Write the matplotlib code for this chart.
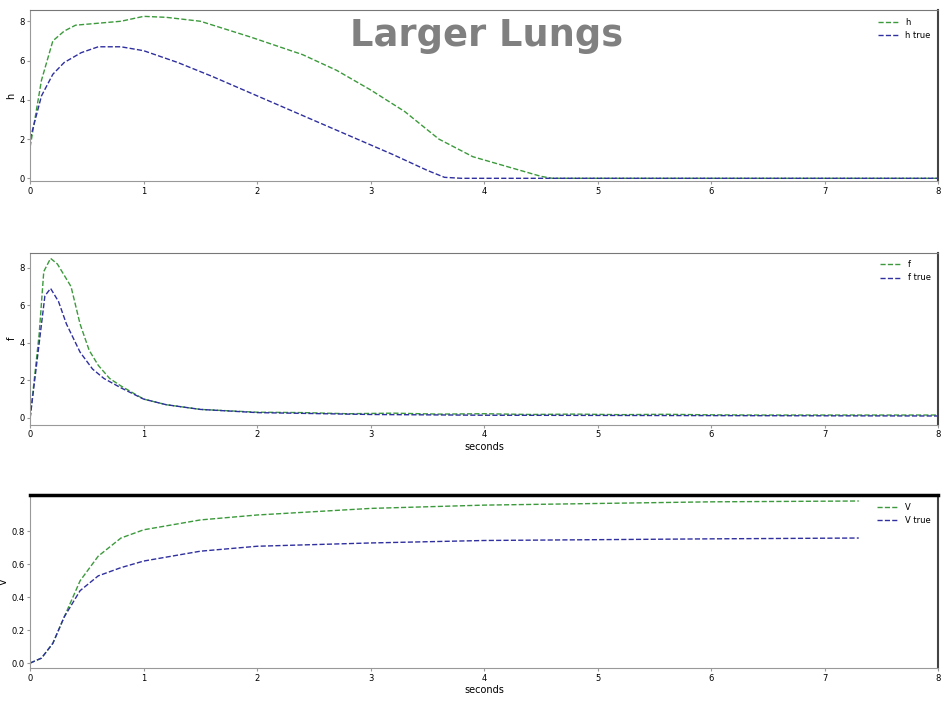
import matplotlib
matplotlib.use("Agg")
import matplotlib.pyplot as plt

# top panel: h
t_h = [0, 0.1, 0.2, 0.3, 0.4, 0.6, 0.8, 1.0, 1.2, 1.5, 1.94, 2.4, 2.7, 3.0, 3.3, 3.6, 3.9, 4.2, 4.5, 4.6, 8.0]
h = [1.6, 5.0, 7.0, 7.5, 7.8, 7.9, 8.0, 8.25, 8.2, 8.0, 7.2, 6.3, 5.5, 4.5, 3.4, 2.0, 1.1, 0.6, 0.1, 0.0, 0.0]
t_h_true = [0, 0.1, 0.2, 0.3, 0.45, 0.6, 0.8, 1.0, 1.3, 1.6, 2.0, 2.4, 2.8, 3.2, 3.5, 3.65, 3.8, 8.0]
h_true = [2.0, 4.2, 5.3, 5.9, 6.4, 6.7, 6.7, 6.5, 5.9, 5.2, 4.2, 3.2, 2.2, 1.2, 0.4, 0.05, 0.0, 0.0]

# middle panel: f
t_f = [0, 0.08, 0.12, 0.18, 0.24, 0.3, 0.36, 0.44, 0.52, 0.6, 0.7, 0.8, 1.0, 1.2, 1.5, 2.0,
       2.4, 2.8, 3.2, 3.6, 4.0, 4.4, 4.8, 5.2, 5.6, 6.0, 6.4, 7.0, 8.0]
f = [0, 4.5, 7.8, 8.5, 8.2, 7.6, 7.0, 5.0, 3.6, 2.8, 2.1, 1.7, 1.0, 0.7, 0.45, 0.3,
     0.28, 0.22, 0.25, 0.2, 0.22, 0.18, 0.2, 0.17, 0.19, 0.16, 0.15, 0.15, 0.15]
t_f_true = [0, 0.08, 0.13, 0.18, 0.25, 0.32, 0.44, 0.55, 0.65, 0.8, 1.0, 1.2, 1.5, 2.0, 3.0, 4.0, 8.0]
f_true = [0, 4.0, 6.5, 6.9, 6.2, 5.0, 3.5, 2.6, 2.1, 1.6, 1.0, 0.7, 0.45, 0.28, 0.18, 0.14, 0.1]

# bottom panel: V
t_v = [0, 0.1, 0.2, 0.3, 0.44, 0.6, 0.8, 1.0, 1.5, 2.0, 3.0, 4.0, 5.0, 6.0, 7.3]
v = [0, 0.03, 0.12, 0.28, 0.50, 0.65, 0.76, 0.81, 0.87, 0.90, 0.94, 0.96, 0.97, 0.98, 0.985]
v_true = [0, 0.03, 0.12, 0.28, 0.44, 0.53, 0.58, 0.62, 0.68, 0.71, 0.73, 0.745, 0.75, 0.755, 0.76]

green = "#3c9a3c"
blue = "#2f2fa0"

fig = plt.figure(figsize=(9.42, 7.08), dpi=100)
ax1 = fig.add_axes([0.032, 0.744, 0.964, 0.2415])
ax2 = fig.add_axes([0.032, 0.400, 0.964, 0.243])
ax3 = fig.add_axes([0.032, 0.0565, 0.964, 0.244])

ax1.plot(t_h, h, "--", color=green, lw=1, label="h")
ax1.plot(t_h_true, h_true, "--", color=blue, lw=1, label="h true")
ax1.set_ylim(-0.15, 8.56)
ax1.set_yticks([0, 2, 4, 6, 8])
ax1.set_ylabel("h", fontsize=7, labelpad=2)

ax2.plot(t_f, f, "--", color=green, lw=1, label="f")
ax2.plot(t_f_true, f_true, "--", color=blue, lw=1, label="f true")
ax2.set_ylim(-0.37, 8.8)
ax2.set_yticks([0, 2, 4, 6, 8])
ax2.set_ylabel("f", fontsize=7, labelpad=2)
ax2.set_xlabel("seconds", fontsize=7, labelpad=2)

ax3.plot(t_v, v, "--", color=green, lw=1, label="V")
ax3.plot(t_v, v_true, "--", color=blue, lw=1, label="V true")
ax3.set_ylim(-0.03, 1.02)
ax3.set_yticks([0, 0.2, 0.4, 0.6, 0.8])
ax3.set_ylabel("V", fontsize=7, labelpad=2)
ax3.set_xlabel("seconds", fontsize=7, labelpad=2)
ax3.spines["top"].set_linewidth(2.5)
ax3.spines["top"].set_color("black")

for ax in (ax1, ax2, ax3):
    ax.set_xlim(0, 8)
    ax.set_xticks(range(0, 9))
    ax.tick_params(labelsize=6, length=2, pad=2, color="#999999")
    for name in ("left", "bottom"):
        ax.spines[name].set_color("#999999")
    ax.spines["right"].set_color("#444444")
    ax.spines["right"].set_linewidth(1.5)
    if ax is not ax3:
        ax.spines["top"].set_color("#777777")
    ax.legend(loc="upper right", fontsize=6, frameon=False, handlelength=2.5)

fig.text(0.517, 0.95, "Larger Lungs", fontsize=26.5, fontweight="bold",
         color="#808080", ha="center", va="center")

fig.savefig("out.png", dpi=100)
